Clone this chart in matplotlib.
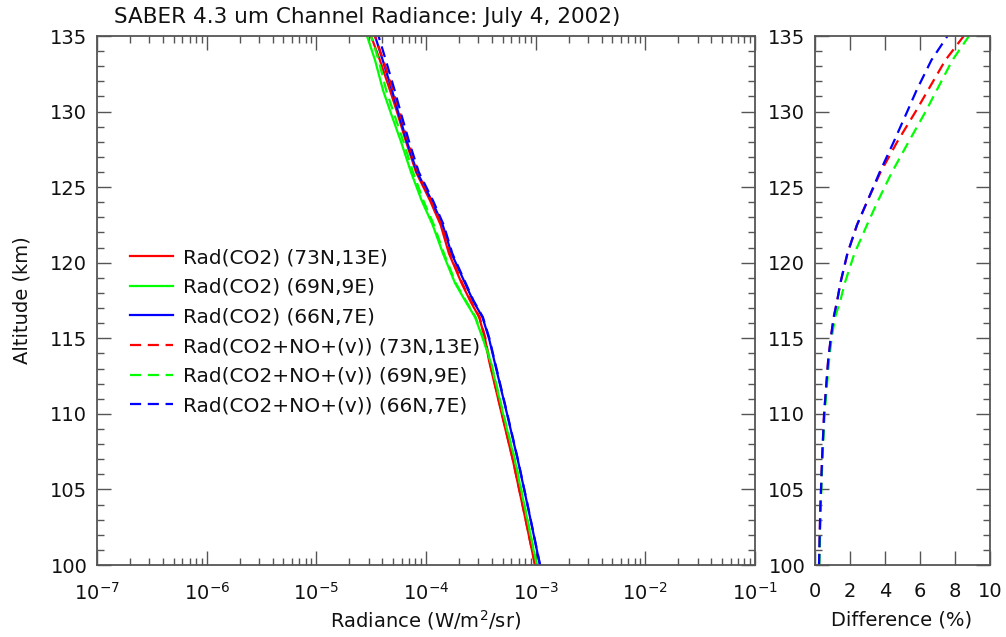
import matplotlib
matplotlib.use("Agg")
import matplotlib.pyplot as plt
from matplotlib.ticker import LogLocator, MultipleLocator, FixedLocator, NullFormatter, FixedFormatter

plt.rcParams['font.family'] = ['DejaVu Sans']
plt.rcParams['mathtext.fontset'] = 'dejavusans'

# ---------------- data ----------------
altitude = [100, 103.5, 106.9, 110, 113.5, 115, 116.4, 117.5, 118.65, 120.6, 122.5, 124.1,
            126, 128, 130, 131.4, 133.4, 135]

# Radiance (W/m2/sr), CO2 only
rad_co2_73n = [9.86e-4, 7.82e-4, 6.21e-4, 4.90e-4, 3.76e-4, 3.45e-4, 3.05e-4, 2.52e-4,
               2.11e-4, 1.62e-4, 1.36e-4, 1.09e-4, 8.11e-5, 6.58e-5, 5.43e-5, 4.70e-5,
               3.80e-5, 3.15e-5]
rad_co2_69n = [1.021e-3, 8.11e-4, 6.47e-4, 5.04e-4, 3.86e-4, 3.29e-4, 2.80e-4, 2.27e-4,
               1.84e-4, 1.43e-4, 1.15e-4, 9.14e-5, 7.29e-5, 5.92e-5, 4.73e-5, 4.06e-5,
               3.43e-5, 2.90e-5]
rad_co2_66n = [1.094e-3, 8.69e-4, 6.90e-4, 5.48e-4, 4.20e-4, 3.75e-4, 3.27e-4, 2.68e-4,
               2.27e-4, 1.71e-4, 1.42e-4, 1.13e-4, 8.28e-5, 6.71e-5, 5.56e-5, 4.90e-5,
               4.03e-5, 3.43e-5]

# Radiance (W/m2/sr), CO2 + NO+(v)
rad_tot_73n = [9.88e-4, 7.84e-4, 6.23e-4, 4.93e-4, 3.79e-4, 3.48e-4, 3.08e-4, 2.55e-4,
               2.14e-4, 1.65e-4, 1.39e-4, 1.12e-4, 8.42e-5, 6.89e-5, 5.74e-5, 5.00e-5,
               4.08e-5, 3.42e-5]
rad_tot_69n = [1.024e-3, 8.14e-4, 6.50e-4, 5.07e-4, 3.89e-4, 3.32e-4, 2.83e-4, 2.30e-4,
               1.87e-4, 1.46e-4, 1.18e-4, 9.47e-5, 7.61e-5, 6.24e-5, 5.03e-5, 4.34e-5,
               3.70e-5, 3.16e-5]
rad_tot_66n = [1.097e-3, 8.72e-4, 6.93e-4, 5.51e-4, 4.23e-4, 3.78e-4, 3.30e-4, 2.71e-4,
               2.30e-4, 1.74e-4, 1.45e-4, 1.16e-4, 8.59e-5, 7.02e-5, 5.85e-5, 5.18e-5,
               4.30e-5, 3.69e-5]

# Difference (%)
diff_73n = [0.23, 0.30, 0.40, 0.52, 0.75, 0.90, 1.07, 1.27, 1.45, 1.85, 2.40, 3.00,
            3.75, 4.70, 5.75, 6.45, 7.45, 8.50]
diff_69n = [0.25, 0.32, 0.42, 0.55, 0.80, 0.95, 1.15, 1.45, 1.70, 2.25, 2.97, 3.60,
            4.40, 5.35, 6.32, 6.95, 7.85, 8.80]
diff_66n = [0.23, 0.30, 0.40, 0.52, 0.75, 0.90, 1.07, 1.27, 1.45, 1.85, 2.40, 3.00,
            3.70, 4.50, 5.27, 5.80, 6.65, 7.57]

locations = ['(73N,13E)', '(69N,9E)', '(66N,7E)']
colors = ['#ff0000', '#00ff00', '#0000ff']

x_ticks = [1e-7, 1e-6, 1e-5, 1e-4, 1e-3, 1e-2, 1e-1]
x_ticklabels = [r'$10^{-7}$', r'$10^{-6}$', r'$10^{-5}$', r'$10^{-4}$',
                r'$10^{-3}$', r'$10^{-2}$', r'$10^{-1}$']
y_ticks = [100, 105, 110, 115, 120, 125, 130, 135]
diff_ticks = [0, 2, 4, 6, 8, 10]

# ---------------- figure ----------------
W, H = 1006, 637
fig = plt.figure(figsize=(W / 100, H / 100), dpi=100)

def px_axes(x0, x1, y0, y1):
    return fig.add_axes([x0 / W, 1 - y1 / H, (x1 - x0) / W, (y1 - y0) / H])

ax = px_axes(97, 755, 36, 565)
ax2 = px_axes(815, 990, 36, 565)

spine_col = '#555555'
txt_col = '#111111'
lw = 1.6
dash = (0, (5, 3))
fs = 14
fs_leg = 14.5

solid_sets = [rad_co2_73n, rad_co2_69n, rad_co2_66n]
tot_sets = [rad_tot_73n, rad_tot_69n, rad_tot_66n]
diff_sets = [diff_73n, diff_69n, diff_66n]

for r, c, loc in zip(solid_sets, colors, locations):
    ax.plot(r, altitude, color=c, lw=lw, label='Rad(CO2) ' + loc)
for r, c, loc in zip(tot_sets, colors, locations):
    ax.plot(r, altitude, color=c, lw=lw, linestyle=dash, label='Rad(CO2+NO+(v)) ' + loc)
for d, c in zip(diff_sets, colors):
    ax2.plot(d, altitude, color=c, lw=lw, linestyle=dash)

ax.set_xscale('log')
ax.set_xlim(1e-7, 1e-1)
ax.set_ylim(100, 135)
ax2.set_xlim(0, 10)
ax2.set_ylim(100, 135)

ax.xaxis.set_major_locator(FixedLocator(x_ticks))
ax.xaxis.set_major_formatter(FixedFormatter(x_ticklabels))
ax.xaxis.set_minor_locator(LogLocator(base=10, subs=range(2, 10), numticks=20))
ax.xaxis.set_minor_formatter(NullFormatter())
ax2.xaxis.set_major_locator(FixedLocator(diff_ticks))

for a in (ax, ax2):
    a.yaxis.set_major_locator(FixedLocator(y_ticks))
    a.yaxis.set_minor_locator(MultipleLocator(1))
    a.tick_params(which='both', direction='in', top=True, right=True,
                  color=spine_col, labelcolor=txt_col, labelsize=fs, width=1.0)
    a.tick_params(which='major', length=10)
    a.tick_params(which='minor', length=5)
    a.tick_params(axis='x', pad=12)
    a.tick_params(axis='y', pad=7)
    for s in a.spines.values():
        s.set_color(spine_col)
        s.set_linewidth(1.3)

leg = ax.legend(loc='upper left', bbox_to_anchor=((130 - 97) / 658, (565 - 248) / 529),
                frameon=False, fontsize=fs_leg, handlelength=2.15, handletextpad=0.48,
                labelspacing=0.53, borderpad=0, borderaxespad=0)
for t in leg.get_texts():
    t.set_color(txt_col)

fig.text(367 / W, 1 - 17 / H, 'SABER 4.3 um Channel Radiance: July 4, 2002)',
         ha='center', va='center', fontsize=15.5, color=txt_col)
fig.text(22 / W, 1 - 300 / H, 'Altitude (km)', rotation=90, ha='center', va='center',
         fontsize=fs, color=txt_col)
fig.text(426 / W, 1 - 620 / H, 'Radiance (W/m$^2$/sr)', ha='center', va='center',
         fontsize=fs, color=txt_col)
fig.text(902 / W, 1 - 620 / H, 'Difference (%)', ha='center', va='center',
         fontsize=fs, color=txt_col)

fig.savefig('out.png', dpi=100)
